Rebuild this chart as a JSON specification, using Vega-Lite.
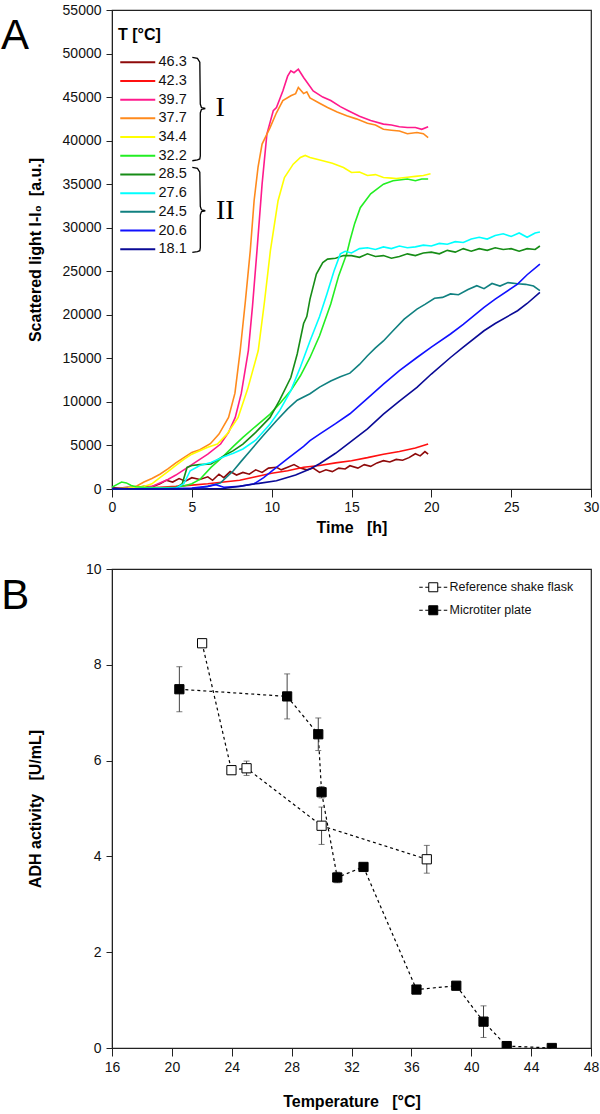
{
  "$schema": "https://vega.github.io/schema/vega-lite/v6.json",
  "padding": {"left": 0, "top": 2, "right": 2, "bottom": 2},
  "background": "white",
  "spacing": 25,
  "config": {
    "font": "Liberation Sans",
    "view": {"stroke": "#222", "strokeWidth": 1.2},
    "axis": {"grid": false, "domainColor": "#222", "tickColor": "#222", "labelColor": "#111", "titleColor": "#000", "labelFontSize": 14, "titleFontSize": 16, "labelFlush": false, "labelOverlap": false, "titleFontWeight": "bold"}
  },
  "datasets": {
    "curves": [
      {"T":"46.3","t":0,"v":150},{"T":"46.3","t":0.5,"v":100},{"T":"46.3","t":1,"v":200},{"T":"46.3","t":1.5,"v":150},{"T":"46.3","t":2,"v":300},{"T":"46.3","t":2.5,"v":250},{"T":"46.3","t":3,"v":600},{"T":"46.3","t":3.4,"v":1000},{"T":"46.3","t":3.8,"v":800},{"T":"46.3","t":4.2,"v":1200},{"T":"46.3","t":4.6,"v":900},{"T":"46.3","t":5,"v":1300},{"T":"46.3","t":5.5,"v":1100},{"T":"46.3","t":6,"v":1400},{"T":"46.3","t":6.3,"v":1000},{"T":"46.3","t":6.7,"v":1700},{"T":"46.3","t":7,"v":1300},{"T":"46.3","t":7.4,"v":2000},{"T":"46.3","t":7.8,"v":1600},{"T":"46.3","t":8.2,"v":1900},{"T":"46.3","t":8.6,"v":1700},{"T":"46.3","t":9,"v":2200},{"T":"46.3","t":9.4,"v":1900},{"T":"46.3","t":9.8,"v":2400},{"T":"46.3","t":10.3,"v":2500},{"T":"46.3","t":10.6,"v":2200},{"T":"46.3","t":11,"v":2500},{"T":"46.3","t":11.4,"v":2800},{"T":"46.3","t":11.8,"v":2400},{"T":"46.3","t":12.2,"v":2200},{"T":"46.3","t":12.6,"v":2400},{"T":"46.3","t":13,"v":1900},{"T":"46.3","t":13.4,"v":2200},{"T":"46.3","t":13.8,"v":2000},{"T":"46.3","t":14.2,"v":2400},{"T":"46.3","t":14.6,"v":2300},{"T":"46.3","t":14.9,"v":2670},{"T":"46.3","t":15.4,"v":2400},{"T":"46.3","t":15.8,"v":2800},{"T":"46.3","t":16.2,"v":2600},{"T":"46.3","t":16.6,"v":3000},{"T":"46.3","t":17,"v":3250},{"T":"46.3","t":17.4,"v":3100},{"T":"46.3","t":17.8,"v":3400},{"T":"46.3","t":18.2,"v":3300},{"T":"46.3","t":18.6,"v":3600},{"T":"46.3","t":19,"v":4050},{"T":"46.3","t":19.3,"v":3800},{"T":"46.3","t":19.6,"v":4300},{"T":"46.3","t":19.8,"v":4000},
      {"T":"42.3","t":0,"v":0},{"T":"42.3","t":1,"v":50},{"T":"42.3","t":2,"v":100},{"T":"42.3","t":3,"v":200},{"T":"42.3","t":4,"v":300},{"T":"42.3","t":5,"v":450},{"T":"42.3","t":6,"v":600},{"T":"42.3","t":7,"v":800},{"T":"42.3","t":8,"v":1000},{"T":"42.3","t":9,"v":1400},{"T":"42.3","t":10,"v":1800},{"T":"42.3","t":11,"v":2100},{"T":"42.3","t":12,"v":2500},{"T":"42.3","t":13,"v":2700},{"T":"42.3","t":14,"v":3000},{"T":"42.3","t":15,"v":3250},{"T":"42.3","t":16,"v":3600},{"T":"42.3","t":17,"v":4000},{"T":"42.3","t":18,"v":4300},{"T":"42.3","t":19,"v":4700},{"T":"42.3","t":19.8,"v":5160},
      {"T":"39.7","t":0,"v":0},{"T":"39.7","t":1,"v":50},{"T":"39.7","t":2,"v":150},{"T":"39.7","t":2.5,"v":300},{"T":"39.7","t":3,"v":700},{"T":"39.7","t":3.5,"v":1100},{"T":"39.7","t":4,"v":1600},{"T":"39.7","t":4.5,"v":2200},{"T":"39.7","t":5,"v":2800},{"T":"39.7","t":5.5,"v":3400},{"T":"39.7","t":6,"v":4000},{"T":"39.7","t":6.8,"v":5160},{"T":"39.7","t":7.3,"v":6500},{"T":"39.7","t":7.72,"v":8220},{"T":"39.7","t":8.1,"v":11000},{"T":"39.7","t":8.54,"v":15900},{"T":"39.7","t":8.8,"v":21000},{"T":"39.7","t":9.08,"v":27360},{"T":"39.7","t":9.4,"v":35000},{"T":"39.7","t":9.7,"v":40750},{"T":"39.7","t":10.1,"v":43430},{"T":"39.7","t":10.3,"v":43800},{"T":"39.7","t":10.7,"v":45700},{"T":"39.7","t":11.0,"v":47400},{"T":"39.7","t":11.2,"v":48020},{"T":"39.7","t":11.4,"v":47800},{"T":"39.7","t":11.67,"v":48200},{"T":"39.7","t":12.0,"v":47250},{"T":"39.7","t":12.6,"v":45700},{"T":"39.7","t":13.2,"v":45000},{"T":"39.7","t":13.7,"v":44600},{"T":"39.7","t":14.3,"v":43900},{"T":"39.7","t":14.8,"v":43430},{"T":"39.7","t":15.5,"v":42800},{"T":"39.7","t":16.2,"v":42300},{"T":"39.7","t":17,"v":41900},{"T":"39.7","t":17.5,"v":41800},{"T":"39.7","t":18,"v":41600},{"T":"39.7","t":18.5,"v":41500},{"T":"39.7","t":19,"v":41500},{"T":"39.7","t":19.4,"v":41300},{"T":"39.7","t":19.8,"v":41600},
      {"T":"37.7","t":0,"v":0},{"T":"37.7","t":0.5,"v":50},{"T":"37.7","t":1,"v":100},{"T":"37.7","t":1.5,"v":300},{"T":"37.7","t":2,"v":800},{"T":"37.7","t":2.5,"v":1200},{"T":"37.7","t":3,"v":1700},{"T":"37.7","t":3.5,"v":2300},{"T":"37.7","t":4,"v":3000},{"T":"37.7","t":4.5,"v":3600},{"T":"37.7","t":5,"v":4200},{"T":"37.7","t":5.5,"v":4500},{"T":"37.7","t":6.16,"v":5200},{"T":"37.7","t":6.7,"v":6300},{"T":"37.7","t":7.3,"v":8220},{"T":"37.7","t":7.7,"v":11000},{"T":"37.7","t":8.03,"v":15900},{"T":"37.7","t":8.35,"v":21500},{"T":"37.7","t":8.66,"v":27360},{"T":"37.7","t":8.9,"v":33100},{"T":"37.7","t":9.15,"v":37000},{"T":"37.7","t":9.4,"v":39600},{"T":"37.7","t":9.9,"v":41500},{"T":"37.7","t":10.3,"v":43200},{"T":"37.7","t":10.7,"v":44600},{"T":"37.7","t":11.2,"v":45150},{"T":"37.7","t":11.5,"v":45400},{"T":"37.7","t":11.67,"v":46100},{"T":"37.7","t":12.0,"v":45400},{"T":"37.7","t":12.2,"v":45600},{"T":"37.7","t":12.4,"v":44900},{"T":"37.7","t":13.0,"v":44300},{"T":"37.7","t":13.5,"v":43800},{"T":"37.7","t":14.1,"v":43300},{"T":"37.7","t":14.7,"v":42850},{"T":"37.7","t":15.3,"v":42500},{"T":"37.7","t":16,"v":42000},{"T":"37.7","t":16.5,"v":41800},{"T":"37.7","t":17,"v":41300},{"T":"37.7","t":17.5,"v":41200},{"T":"37.7","t":18,"v":41100},{"T":"37.7","t":18.5,"v":40800},{"T":"37.7","t":19.1,"v":40940},{"T":"37.7","t":19.5,"v":40800},{"T":"37.7","t":19.8,"v":40360},
      {"T":"34.4","t":0,"v":0},{"T":"34.4","t":1,"v":100},{"T":"34.4","t":2,"v":300},{"T":"34.4","t":2.5,"v":600},{"T":"34.4","t":3,"v":1300},{"T":"34.4","t":3.5,"v":2000},{"T":"34.4","t":4,"v":2700},{"T":"34.4","t":4.5,"v":3400},{"T":"34.4","t":5,"v":4000},{"T":"34.4","t":5.5,"v":4400},{"T":"34.4","t":6,"v":4800},{"T":"34.4","t":6.6,"v":5160},{"T":"34.4","t":7.2,"v":6300},{"T":"34.4","t":7.9,"v":8220},{"T":"34.4","t":8.5,"v":11500},{"T":"34.4","t":9.16,"v":15900},{"T":"34.4","t":9.55,"v":21500},{"T":"34.4","t":9.92,"v":27360},{"T":"34.4","t":10.4,"v":33100},{"T":"34.4","t":10.8,"v":35770},{"T":"34.4","t":11.35,"v":37300},{"T":"34.4","t":11.8,"v":38070},{"T":"34.4","t":12.1,"v":38300},{"T":"34.4","t":12.4,"v":38070},{"T":"34.4","t":13.2,"v":37700},{"T":"34.4","t":13.8,"v":37400},{"T":"34.4","t":14.5,"v":36920},{"T":"34.4","t":15,"v":36350},{"T":"34.4","t":15.5,"v":36400},{"T":"34.4","t":16,"v":36000},{"T":"34.4","t":16.5,"v":36100},{"T":"34.4","t":17,"v":35770},{"T":"34.4","t":17.5,"v":35700},{"T":"34.4","t":17.8,"v":35650},{"T":"34.4","t":18.5,"v":35800},{"T":"34.4","t":19,"v":35900},{"T":"34.4","t":19.5,"v":36000},{"T":"34.4","t":19.95,"v":36200},
      {"T":"32.2","t":0,"v":200},{"T":"32.2","t":0.3,"v":500},{"T":"32.2","t":0.6,"v":800},{"T":"32.2","t":0.9,"v":700},{"T":"32.2","t":1.2,"v":400},{"T":"32.2","t":1.5,"v":250},{"T":"32.2","t":2,"v":200},{"T":"32.2","t":3,"v":150},{"T":"32.2","t":4,"v":200},{"T":"32.2","t":4.5,"v":350},{"T":"32.2","t":5,"v":600},{"T":"32.2","t":5.5,"v":1100},{"T":"32.2","t":6.2,"v":2480},{"T":"32.2","t":7,"v":3800},{"T":"32.2","t":7.6,"v":4900},{"T":"32.2","t":8.2,"v":5920},{"T":"32.2","t":9,"v":7200},{"T":"32.2","t":9.9,"v":8600},{"T":"32.2","t":10.5,"v":9800},{"T":"32.2","t":11.2,"v":11300},{"T":"32.2","t":11.8,"v":13000},{"T":"32.2","t":12.4,"v":15100},{"T":"32.2","t":13,"v":17600},{"T":"32.2","t":13.7,"v":21240},{"T":"32.2","t":14.2,"v":24500},{"T":"32.2","t":14.7,"v":27000},{"T":"32.2","t":14.9,"v":28500},{"T":"32.2","t":15.2,"v":30500},{"T":"32.2","t":15.55,"v":32300},{"T":"32.2","t":16.2,"v":33900},{"T":"32.2","t":17,"v":35000},{"T":"32.2","t":17.6,"v":35400},{"T":"32.2","t":18.5,"v":35600},{"T":"32.2","t":19,"v":35400},{"T":"32.2","t":19.4,"v":35600},{"T":"32.2","t":19.8,"v":35600},
      {"T":"28.5","t":0,"v":0},{"T":"28.5","t":2,"v":0},{"T":"28.5","t":4,"v":100},{"T":"28.5","t":4.4,"v":600},{"T":"28.5","t":4.7,"v":2480},{"T":"28.5","t":5,"v":2700},{"T":"28.5","t":5.5,"v":2800},{"T":"28.5","t":6.2,"v":2870},{"T":"28.5","t":7,"v":3800},{"T":"28.5","t":7.6,"v":4400},{"T":"28.5","t":8.2,"v":5160},{"T":"28.5","t":9,"v":6500},{"T":"28.5","t":9.9,"v":8220},{"T":"28.5","t":10.5,"v":10200},{"T":"28.5","t":11.2,"v":12800},{"T":"28.5","t":11.6,"v":15500},{"T":"28.5","t":12,"v":19000},{"T":"28.5","t":12.2,"v":19800},{"T":"28.5","t":12.4,"v":21800},{"T":"28.5","t":12.8,"v":24680},{"T":"28.5","t":13.2,"v":26000},{"T":"28.5","t":13.5,"v":26400},{"T":"28.5","t":14,"v":26500},{"T":"28.5","t":14.5,"v":26800},{"T":"28.5","t":15,"v":26800},{"T":"28.5","t":15.5,"v":26600},{"T":"28.5","t":16,"v":27000},{"T":"28.5","t":16.5,"v":26700},{"T":"28.5","t":17,"v":26800},{"T":"28.5","t":17.5,"v":26500},{"T":"28.5","t":18,"v":26700},{"T":"28.5","t":18.5,"v":27000},{"T":"28.5","t":19,"v":26800},{"T":"28.5","t":19.5,"v":27100},{"T":"28.5","t":20,"v":27200},{"T":"28.5","t":20.5,"v":27000},{"T":"28.5","t":21,"v":27400},{"T":"28.5","t":21.5,"v":27200},{"T":"28.5","t":22,"v":27600},{"T":"28.5","t":22.5,"v":27300},{"T":"28.5","t":23,"v":27600},{"T":"28.5","t":23.5,"v":27400},{"T":"28.5","t":24,"v":27700},{"T":"28.5","t":24.5,"v":27500},{"T":"28.5","t":25,"v":27600},{"T":"28.5","t":25.5,"v":27300},{"T":"28.5","t":26,"v":27600},{"T":"28.5","t":26.5,"v":27500},{"T":"28.5","t":26.8,"v":27900},
      {"T":"27.6","t":0,"v":0},{"T":"27.6","t":2,"v":50},{"T":"27.6","t":4,"v":100},{"T":"27.6","t":4.5,"v":600},{"T":"27.6","t":4.9,"v":2100},{"T":"27.6","t":5.5,"v":2700},{"T":"27.6","t":6.2,"v":3050},{"T":"27.6","t":7,"v":3700},{"T":"27.6","t":7.6,"v":4100},{"T":"27.6","t":8.2,"v":4600},{"T":"27.6","t":9,"v":5600},{"T":"27.6","t":9.9,"v":7460},{"T":"27.6","t":10.5,"v":9000},{"T":"27.6","t":11.2,"v":11300},{"T":"27.6","t":11.8,"v":14000},{"T":"27.6","t":12.4,"v":17000},{"T":"27.6","t":13,"v":19800},{"T":"27.6","t":13.46,"v":22400},{"T":"27.6","t":13.9,"v":25000},{"T":"27.6","t":14.3,"v":27000},{"T":"27.6","t":14.6,"v":27300},{"T":"27.6","t":15,"v":27100},{"T":"27.6","t":15.5,"v":27600},{"T":"27.6","t":16,"v":27700},{"T":"27.6","t":16.5,"v":27500},{"T":"27.6","t":17,"v":27800},{"T":"27.6","t":17.5,"v":27600},{"T":"27.6","t":18,"v":27900},{"T":"27.6","t":18.5,"v":27700},{"T":"27.6","t":19,"v":27800},{"T":"27.6","t":19.5,"v":28000},{"T":"27.6","t":20,"v":27900},{"T":"27.6","t":20.5,"v":28200},{"T":"27.6","t":21,"v":28100},{"T":"27.6","t":21.5,"v":28400},{"T":"27.6","t":22,"v":28300},{"T":"27.6","t":22.5,"v":28700},{"T":"27.6","t":23,"v":28900},{"T":"27.6","t":23.5,"v":28700},{"T":"27.6","t":24,"v":29100},{"T":"27.6","t":24.5,"v":29300},{"T":"27.6","t":25,"v":29000},{"T":"27.6","t":25.5,"v":29400},{"T":"27.6","t":26,"v":28900},{"T":"27.6","t":26.5,"v":29400},{"T":"27.6","t":26.8,"v":29500},
      {"T":"24.5","t":0,"v":0},{"T":"24.5","t":5,"v":50},{"T":"24.5","t":5.5,"v":150},{"T":"24.5","t":6,"v":300},{"T":"24.5","t":6.8,"v":700},{"T":"24.5","t":7.6,"v":2100},{"T":"24.5","t":8.1,"v":3200},{"T":"24.5","t":8.66,"v":4400},{"T":"24.5","t":9.5,"v":6200},{"T":"24.5","t":10.3,"v":7840},{"T":"24.5","t":11,"v":9200},{"T":"24.5","t":11.6,"v":10200},{"T":"24.5","t":12.4,"v":10940},{"T":"24.5","t":13,"v":11700},{"T":"24.5","t":13.7,"v":12400},{"T":"24.5","t":14.3,"v":12900},{"T":"24.5","t":14.9,"v":13300},{"T":"24.5","t":15.5,"v":14300},{"T":"24.5","t":16,"v":15300},{"T":"24.5","t":16.5,"v":16200},{"T":"24.5","t":17,"v":17000},{"T":"24.5","t":17.6,"v":18170},{"T":"24.5","t":18.3,"v":19500},{"T":"24.5","t":19.1,"v":20660},{"T":"24.5","t":19.6,"v":21200},{"T":"24.5","t":20.2,"v":21900},{"T":"24.5","t":20.7,"v":22000},{"T":"24.5","t":21.2,"v":22400},{"T":"24.5","t":21.7,"v":22300},{"T":"24.5","t":22.3,"v":22900},{"T":"24.5","t":22.85,"v":23340},{"T":"24.5","t":23.3,"v":23000},{"T":"24.5","t":23.8,"v":23600},{"T":"24.5","t":24.3,"v":23300},{"T":"24.5","t":24.8,"v":23700},{"T":"24.5","t":25.4,"v":23560},{"T":"24.5","t":25.9,"v":23500},{"T":"24.5","t":26.4,"v":23300},{"T":"24.5","t":26.8,"v":22780},
      {"T":"20.6","t":0,"v":50},{"T":"20.6","t":3,"v":0},{"T":"20.6","t":5,"v":100},{"T":"20.6","t":6,"v":300},{"T":"20.6","t":6.5,"v":500},{"T":"20.6","t":7,"v":200},{"T":"20.6","t":8,"v":300},{"T":"20.6","t":8.9,"v":600},{"T":"20.6","t":9.5,"v":1300},{"T":"20.6","t":10.3,"v":2480},{"T":"20.6","t":11,"v":3500},{"T":"20.6","t":12,"v":4900},{"T":"20.6","t":12.4,"v":5550},{"T":"20.6","t":13,"v":6300},{"T":"20.6","t":14,"v":7500},{"T":"20.6","t":14.9,"v":8640},{"T":"20.6","t":16,"v":10400},{"T":"20.6","t":17,"v":12050},{"T":"20.6","t":18,"v":13600},{"T":"20.6","t":19.1,"v":15100},{"T":"20.6","t":20,"v":16300},{"T":"20.6","t":21.2,"v":17800},{"T":"20.6","t":22,"v":18900},{"T":"20.6","t":23.3,"v":20850},{"T":"20.6","t":24,"v":21800},{"T":"20.6","t":25.4,"v":23530},{"T":"20.6","t":26,"v":24600},{"T":"20.6","t":26.8,"v":25830},
      {"T":"18.1","t":0,"v":0},{"T":"18.1","t":5,"v":0},{"T":"18.1","t":7,"v":50},{"T":"18.1","t":8.2,"v":380},{"T":"18.1","t":9.2,"v":650},{"T":"18.1","t":10.3,"v":950},{"T":"18.1","t":11.5,"v":1600},{"T":"18.1","t":12.4,"v":2300},{"T":"18.1","t":13,"v":2900},{"T":"18.1","t":14,"v":4100},{"T":"18.1","t":14.9,"v":5350},{"T":"18.1","t":16,"v":6900},{"T":"18.1","t":17,"v":8600},{"T":"18.1","t":18,"v":10100},{"T":"18.1","t":19.1,"v":11660},{"T":"18.1","t":20,"v":13200},{"T":"18.1","t":21.2,"v":15100},{"T":"18.1","t":22,"v":16300},{"T":"18.1","t":23.3,"v":18170},{"T":"18.1","t":24,"v":19000},{"T":"18.1","t":25.4,"v":20470},{"T":"18.1","t":26,"v":21300},{"T":"18.1","t":26.8,"v":22570}
    ],
    "braces": [
      {"g":"I","i":0,"t":5.03,"v":49550},{"g":"I","i":1,"t":5.35,"v":49450},{"g":"I","i":2,"t":5.5,"v":49000},{"g":"I","i":3,"t":5.53,"v":44200},{"g":"I","i":4,"t":5.6,"v":43800},{"g":"I","i":5,"t":5.84,"v":43690},{"g":"I","i":6,"t":5.6,"v":43580},{"g":"I","i":7,"t":5.53,"v":43180},{"g":"I","i":8,"t":5.53,"v":38240},{"g":"I","i":9,"t":5.5,"v":37900},{"g":"I","i":10,"t":5.35,"v":37790},{"g":"I","i":11,"t":5.03,"v":37690},
      {"g":"II","i":0,"t":5.03,"v":36920},{"g":"II","i":1,"t":5.35,"v":36820},{"g":"II","i":2,"t":5.5,"v":36370},{"g":"II","i":3,"t":5.53,"v":32450},{"g":"II","i":4,"t":5.6,"v":32060},{"g":"II","i":5,"t":5.84,"v":31950},{"g":"II","i":6,"t":5.6,"v":31840},{"g":"II","i":7,"t":5.53,"v":31450},{"g":"II","i":8,"t":5.53,"v":27710},{"g":"II","i":9,"t":5.5,"v":27360},{"g":"II","i":10,"t":5.35,"v":27260},{"g":"II","i":11,"t":5.03,"v":27160}
    ],
    "braceLabels": [
      {"g":"I","t":6.78,"v":43690},
      {"g":"II","t":7.1,"v":31950}
    ],
    "adh": [
      {"s":"Microtiter plate","T":20.5,"a":7.49,"e":0.47},
      {"s":"Microtiter plate","T":27.7,"a":7.34,"e":0.47},
      {"s":"Microtiter plate","T":29.78,"a":6.55,"e":0.34},
      {"s":"Microtiter plate","T":30.0,"a":5.34,"e":0.12},
      {"s":"Microtiter plate","T":31.05,"a":3.56,"e":0.11},
      {"s":"Microtiter plate","T":32.8,"a":3.78,"e":0.06},
      {"s":"Microtiter plate","T":36.34,"a":1.22,"e":0},
      {"s":"Microtiter plate","T":39.0,"a":1.30,"e":0},
      {"s":"Microtiter plate","T":40.82,"a":0.55,"e":0.33},
      {"s":"Microtiter plate","T":42.37,"a":0.04,"e":0},
      {"s":"Microtiter plate","T":45.38,"a":0.0,"e":0},
      {"s":"Reference shake flask","T":22.02,"a":8.45,"e":0.03},
      {"s":"Reference shake flask","T":23.98,"a":5.80,"e":0.06},
      {"s":"Reference shake flask","T":24.99,"a":5.84,"e":0.15},
      {"s":"Reference shake flask","T":30.0,"a":4.64,"e":0.39},
      {"s":"Reference shake flask","T":37.03,"a":3.94,"e":0.29}
    ]
  },
  "vconcat": [
    {
      "width": 479,
      "height": 479,
      "layer": [
        {
          "data": {"name": "curves"},
          "mark": {"type": "line", "strokeWidth": 1.6},
          "encoding": {
            "x": {"field": "t", "type": "quantitative", "title": "Time\u00a0\u00a0\u00a0[h]", "scale": {"domain": [0, 30], "nice": false},
                  "axis": {"values": [0, 5, 10, 15, 20, 25, 30], "tickSize": 8, "labelPadding": 3, "titlePadding": 5}},
            "y": {"field": "v", "type": "quantitative", "title": "Scattered light I-I\u2080\u00a0\u00a0[a.u.]", "scale": {"domain": [0, 55000], "nice": false},
                  "axis": {"values": [0, 5000, 10000, 15000, 20000, 25000, 30000, 35000, 40000, 45000, 50000, 55000], "format": "d", "tickSize": 6, "labelPadding": 5, "titlePadding": 19}},
            "color": {"field": "T", "type": "nominal",
                      "scale": {"domain": ["46.3","42.3","39.7","37.7","34.4","32.2","28.5","27.6","24.5","20.6","18.1"],
                                "range": ["#8E0A0A","#FF1010","#FF1A8C","#FF8A1C","#FFFF00","#22EE22","#168C16","#00FFFF","#108080","#1010FF","#0A0A96"]},
                      "legend": {"orient": "none", "legendX": 6, "legendY": 17, "title": "\u00a0\u00a0T [°C]", "titleFontSize": 16, "titleFontWeight": "bold", "titleColor": "black", "titlePadding": 12,
                                 "symbolType": "M-3.5,0H3.5", "symbolSize": 100, "symbolOffset": 12.5, "symbolStrokeWidth": 2,
                                 "labelFontSize": 14.5, "labelColor": "#111", "labelOffset": 13.5, "rowPadding": 3.7}}
          }
        },
        {
          "data": {"name": "braces"},
          "mark": {"type": "line", "color": "black", "strokeWidth": 1.3},
          "encoding": {
            "x": {"field": "t", "type": "quantitative", "title": "Time\u00a0\u00a0\u00a0[h]"},
            "y": {"field": "v", "type": "quantitative", "title": "Scattered light I-I\u2080\u00a0\u00a0[a.u.]"},
            "detail": {"field": "g"},
            "order": {"field": "i", "type": "quantitative"}
          }
        },
        {
          "data": {"name": "braceLabels"},
          "mark": {"type": "text", "font": "Liberation Serif", "fontSize": 28, "align": "center", "baseline": "middle", "color": "black"},
          "encoding": {
            "x": {"field": "t", "type": "quantitative", "title": "Time\u00a0\u00a0\u00a0[h]"},
            "y": {"field": "v", "type": "quantitative", "title": "Scattered light I-I\u2080\u00a0\u00a0[a.u.]"},
            "text": {"field": "g"}
          }
        },
        {
          "data": {"values": [{"panel": "A"}]},
          "mark": {"type": "text", "fontSize": 42, "align": "left", "baseline": "alphabetic", "color": "black"},
          "encoding": {
            "x": {"datum": -6.95, "type": "quantitative"},
            "y": {"datum": 50520, "type": "quantitative"},
            "text": {"field": "panel"}
          }
        }
      ]
    },
    {
      "width": 479,
      "height": 479,
      "layer": [
        {
          "data": {"name": "adh"},
          "mark": {"type": "line", "color": "black", "strokeWidth": 1.2, "strokeDash": [3, 3]},
          "encoding": {
            "x": {"field": "T", "type": "quantitative", "title": "Temperature\u00a0\u00a0\u00a0[°C]", "scale": {"domain": [16, 48], "nice": false},
                  "axis": {"values": [16, 20, 24, 28, 32, 36, 40, 44, 48], "tickSize": 8, "labelPadding": 4, "titlePadding": 19}},
            "y": {"field": "a", "type": "quantitative", "title": "ADH activity\u00a0\u00a0\u00a0[U/mL]", "scale": {"domain": [0, 10], "nice": false},
                  "axis": {"values": [0, 2, 4, 6, 8, 10], "tickSize": 6, "labelPadding": 5, "titlePadding": 42}},
            "detail": {"field": "s"}
          }
        },
        {
          "data": {"name": "adh"},
          "transform": [{"filter": "datum.e > 0"}],
          "mark": {"type": "errorbar", "color": "#444", "ticks": {"size": 6}},
          "encoding": {
            "x": {"field": "T", "type": "quantitative", "title": "Temperature\u00a0\u00a0\u00a0[°C]"},
            "y": {"field": "a", "type": "quantitative", "title": "ADH activity\u00a0\u00a0\u00a0[U/mL]"},
            "yError": {"field": "e"}
          }
        },
        {
          "data": {"name": "adh"},
          "mark": {"type": "point", "shape": "square", "filled": true, "stroke": "black", "strokeWidth": 1, "size": 85, "opacity": 1, "clip": true},
          "encoding": {
            "x": {"field": "T", "type": "quantitative", "title": "Temperature\u00a0\u00a0\u00a0[°C]"},
            "y": {"field": "a", "type": "quantitative", "title": "ADH activity\u00a0\u00a0\u00a0[U/mL]"},
            "fill": {"field": "s", "type": "nominal",
                     "scale": {"domain": ["Reference shake flask", "Microtiter plate"], "range": ["white", "black"]},
                     "legend": {"orient": "none", "legendX": 306, "legendY": 571, "title": null,
                                "symbolType": "M-2.8,0H-2.1M-1.6,0H-0.9M-0.9,-0.9H0.9V0.9H-0.9ZM0.9,0H1.6M2.1,0H2.8",
                                "symbolSize": 100, "symbolOffset": 9, "symbolStrokeColor": "black", "symbolStrokeWidth": 1, "symbolOpacity": 1,
                                "labelFontSize": 12.5, "labelColor": "#111", "labelOffset": 10, "rowPadding": 9}}
          }
        },
        {
          "data": {"values": [{"panel": "B"}]},
          "mark": {"type": "text", "fontSize": 42, "align": "left", "baseline": "alphabetic", "color": "black"},
          "encoding": {
            "x": {"datum": 8.6, "type": "quantitative"},
            "y": {"datum": 9.17, "type": "quantitative"},
            "text": {"field": "panel"}
          }
        }
      ]
    }
  ]
}
